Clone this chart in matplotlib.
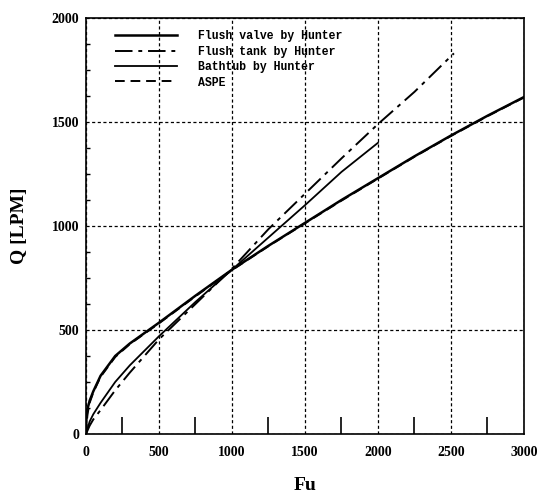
import numpy as np
import matplotlib
matplotlib.use('Agg')
import matplotlib.pyplot as plt
from matplotlib.ticker import MultipleLocator

# valori (Fu, Q in LPM)
fu_valve = [0, 3, 10, 25, 50, 100, 200, 300, 500, 750, 1000, 1250, 1500, 1750, 2000, 2250, 2500, 2750, 3000]
q_valve = [0, 70, 120, 160, 205, 280, 375, 435, 535, 665, 790, 905, 1015, 1125, 1230, 1335, 1435, 1530, 1620]

fu_tank = [0, 25, 50, 100, 200, 300, 500, 750, 1000, 1250, 1500, 1750, 2000, 2250, 2520]
q_tank = [0, 40, 70, 115, 210, 295, 455, 625, 795, 985, 1155, 1325, 1490, 1645, 1830]

fu_bath = [0, 25, 50, 100, 200, 300, 500, 750, 1000, 1250, 1500, 1750, 2000]
q_bath = [0, 60, 95, 150, 250, 330, 470, 635, 790, 945, 1100, 1260, 1400]

fu_aspe = [0, 10, 25, 50, 100, 200, 300, 500, 750, 1000, 1250, 1500, 1750, 2000, 2250, 2500, 2750, 3000]
q_aspe = [0, 95, 150, 200, 275, 370, 432, 532, 662, 788, 903, 1013, 1122, 1228, 1333, 1433, 1528, 1618]

etichette = ['Flush valve by Hunter', 'Flush tank by Hunter', 'Bathtub by Hunter', 'ASPE']

fig = plt.figure(figsize=(5.46, 4.97), dpi=100)
ax = fig.add_axes([0.1575, 0.1268, 0.8022, 0.837])

ax.plot(fu_valve, q_valve, color='black', lw=1.8, ls='-', label=etichette[0])
ax.plot(fu_tank, q_tank, color='black', lw=1.4, ls=(0, (9, 3, 2, 3)), label=etichette[1])
ax.plot(fu_bath, q_bath, color='black', lw=1.3, ls='-', label=etichette[2])
ax.plot(fu_aspe, q_aspe, color='black', lw=1.4, ls=(0, (5, 3)), label=etichette[3])

ax.set_xlim(0, 3000)
ax.set_ylim(0, 2000)
ax.xaxis.set_major_locator(MultipleLocator(500))
ax.yaxis.set_major_locator(MultipleLocator(500))
ax.xaxis.set_minor_locator(MultipleLocator(250))
ax.yaxis.set_minor_locator(MultipleLocator(125))
ax.grid(True, which='major', color='black', ls=(0, (2.5, 2)), lw=0.9)

ax.tick_params(axis='x', which='major', length=0, pad=9)
ax.tick_params(axis='y', which='major', length=0, pad=5)
ax.tick_params(axis='x', which='minor', direction='in', length=12, width=1.2)
ax.tick_params(axis='y', which='minor', direction='in', length=3, width=1)

for lab in ax.get_xticklabels() + ax.get_yticklabels():
    lab.set_fontfamily('Liberation Serif')
    lab.set_fontweight('bold')
    lab.set_fontsize(10)

for s in ax.spines.values():
    s.set_linewidth(1.2)

ax.set_xlabel('Fu', fontfamily='Liberation Serif', fontweight='bold', fontsize=14, va='center')
ax.set_ylabel('Q [LPM]', fontfamily='Liberation Serif', fontweight='bold', fontsize=14)
ax.xaxis.set_label_coords(0.5, -0.123)
ax.yaxis.set_label_coords(-0.132, 0.5)

leg = ax.legend(loc='upper left', bbox_to_anchor=(0.066, 0.970), frameon=False,
                handlelength=5.4, handletextpad=1.8, labelspacing=0.29,
                borderaxespad=0, borderpad=0,
                prop={'family': 'Liberation Mono', 'weight': 'bold', 'size': 8.3})

fig.savefig('out.png', dpi=100)
